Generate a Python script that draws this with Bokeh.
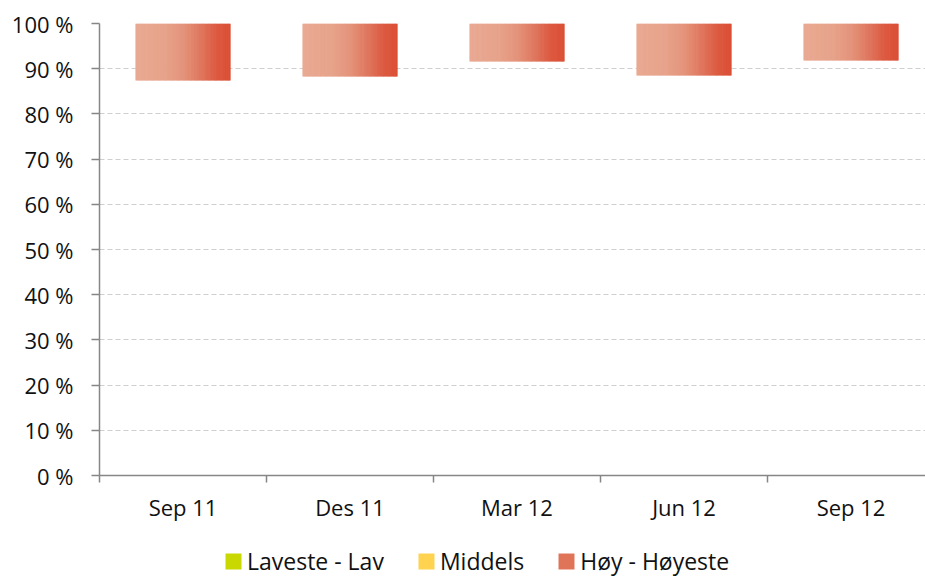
import numpy as np
from bokeh.plotting import figure
from bokeh.layouts import column
from bokeh.models import Range1d, FixedTicker, Legend, LegendItem, ColumnDataSource
from bokeh.embed import file_html
from bokeh.resources import INLINE

# ---- data ----
categories = ["Sep 11", "Des 11", "Mar 12", "Jun 12", "Sep 12"]
series_names = ["Laveste - Lav", "Middels", "Høy - Høyeste"]
laveste_lav = [41.2, 42.0, 45.1, 43.3, 46.0]
middels = [46.2, 46.3, 46.5, 45.2, 45.8]
hoy_hoyeste = [12.6, 11.7, 8.4, 11.5, 8.2]
y_ticks = [0, 10, 20, 30, 40, 50, 60, 70, 80, 90, 100]

FONT = "Open Sans"
AXIS_COLOR = "#868686"
TEXT_COLOR = "#111111"
GREEN = "#C8D800"
YELLOW = "#FFD34F"
RED_LEGEND = "#E07458"
BAR_W = 0.57
W = 925

centers = [i + 0.5 for i in range(len(categories))]
bounds = [float(i) for i in range(len(categories) + 1)]

p = figure(width=W, height=530, x_range=Range1d(0, 4.946), y_range=Range1d(0, 100),
           output_backend="svg", toolbar_location=None,
           min_border_left=99, min_border_right=0, min_border_top=23, min_border_bottom=55)
p.outline_line_color = None
p.background_fill_color = "white"

# grid
p.xgrid.visible = False
p.yaxis.ticker = FixedTicker(ticks=y_ticks)
p.ygrid.grid_line_color = "#CFCFCF"
p.ygrid.grid_line_dash = "5 3"
p.ygrid.grid_line_width = 1.2

# y axis
p.yaxis.major_label_overrides = {t: f"{t} %" for t in y_ticks}
p.yaxis.axis_line_color = AXIS_COLOR
p.yaxis.axis_line_width = 1.5
p.yaxis.major_tick_line_color = AXIS_COLOR
p.yaxis.major_tick_line_width = 1.5
p.yaxis.major_tick_out = 8
p.yaxis.major_tick_in = 0
p.yaxis.minor_tick_line_color = None
p.yaxis.major_label_standoff = 18
p.yaxis.major_label_text_font = FONT
p.yaxis.major_label_text_font_size = "22px"
p.yaxis.major_label_text_color = TEXT_COLOR

# x axis: labels at centers, ticks at boundaries
p.xaxis.ticker = FixedTicker(ticks=centers, minor_ticks=bounds)
p.xaxis.major_label_overrides = {c: cat for c, cat in zip(centers, categories)}
p.xaxis.axis_line_color = AXIS_COLOR
p.xaxis.axis_line_width = 1.5
p.xaxis.major_tick_out = 0
p.xaxis.major_tick_in = 0
p.xaxis.minor_tick_line_color = AXIS_COLOR
p.xaxis.minor_tick_line_width = 1.5
p.xaxis.minor_tick_out = 7
p.xaxis.minor_tick_in = 0
p.xaxis.major_label_standoff = 9
p.xaxis.major_label_text_font = FONT
p.xaxis.major_label_text_font_size = "22px"
p.xaxis.major_label_text_color = TEXT_COLOR

# lower segments (transparent, as in the reference)
bot_mid = [a for a in laveste_lav]
top_mid = [a + b for a, b in zip(laveste_lav, middels)]
p.vbar(x=centers, bottom=0, top=laveste_lav, width=BAR_W, fill_alpha=0, line_alpha=0)
p.vbar(x=centers, bottom=bot_mid, top=top_mid, width=BAR_W, fill_alpha=0, line_alpha=0)

# red segment with horizontal gradient, built from thin slices
stops = [(0.0, (233, 169, 146)), (0.3, (231, 163, 139)), (0.5, (228, 148, 123)),
         (0.7, (223, 116, 92)), (0.85, (220, 90, 65)), (1.0, (219, 78, 52))]
sp = np.array([s[0] for s in stops])
sc = np.array([s[1] for s in stops], dtype=float)

def grad(t):
    r = np.interp(t, sp, sc[:, 0]); g = np.interp(t, sp, sc[:, 1]); b = np.interp(t, sp, sc[:, 2])
    return "#%02x%02x%02x" % (int(round(r)), int(round(g)), int(round(b)))

N = 80
L, R, B, T, C = [], [], [], [], []
for c, base, h in zip(centers, top_mid, hoy_hoyeste):
    x0 = c - BAR_W / 2
    step = BAR_W / N
    for k in range(N):
        L.append(x0 + k * step)
        R.append(min(x0 + (k + 1.6) * step, x0 + BAR_W))
        B.append(base)
        T.append(base + h)
        C.append(grad((k + 0.5) / N))
src = ColumnDataSource(dict(left=L, right=R, bottom=B, top=T, color=C))
p.quad(left="left", right="right", bottom="bottom", top="top", source=src,
       fill_color="color", line_color=None)

# legend strip (separate small figure below the chart; its glyphs lie outside its view)
lg = figure(width=W, height=46, x_range=Range1d(-10, -9), y_range=Range1d(0, 1),
            output_backend="svg", toolbar_location=None,
            min_border_left=0, min_border_right=0, min_border_top=0, min_border_bottom=0)
lg.axis.visible = False
lg.grid.visible = False
lg.outline_line_color = None
r1 = lg.vbar(x=centers, top=laveste_lav, width=BAR_W, fill_color=GREEN, line_color=None)
r2 = lg.vbar(x=centers, top=middels, width=BAR_W, fill_color=YELLOW, line_color=None)
r3 = lg.vbar(x=centers, top=hoy_hoyeste, width=BAR_W, fill_color=RED_LEGEND, line_color=None)
legend = Legend(items=[LegendItem(label=series_names[0], renderers=[r1]),
                       LegendItem(label=series_names[1], renderers=[r2]),
                       LegendItem(label=series_names[2], renderers=[r3])],
                orientation="horizontal", location=(124, -1),
                glyph_width=20, glyph_height=20, label_height=20, label_standoff=4, spacing=32,
                padding=0, margin=0, border_line_color=None, background_fill_alpha=0,
                label_text_font=FONT, label_text_font_size="23px", label_text_color=TEXT_COLOR)
lg.add_layout(legend, "center")

open("out.html", "w").write(file_html(column(p, lg, spacing=0), INLINE))
